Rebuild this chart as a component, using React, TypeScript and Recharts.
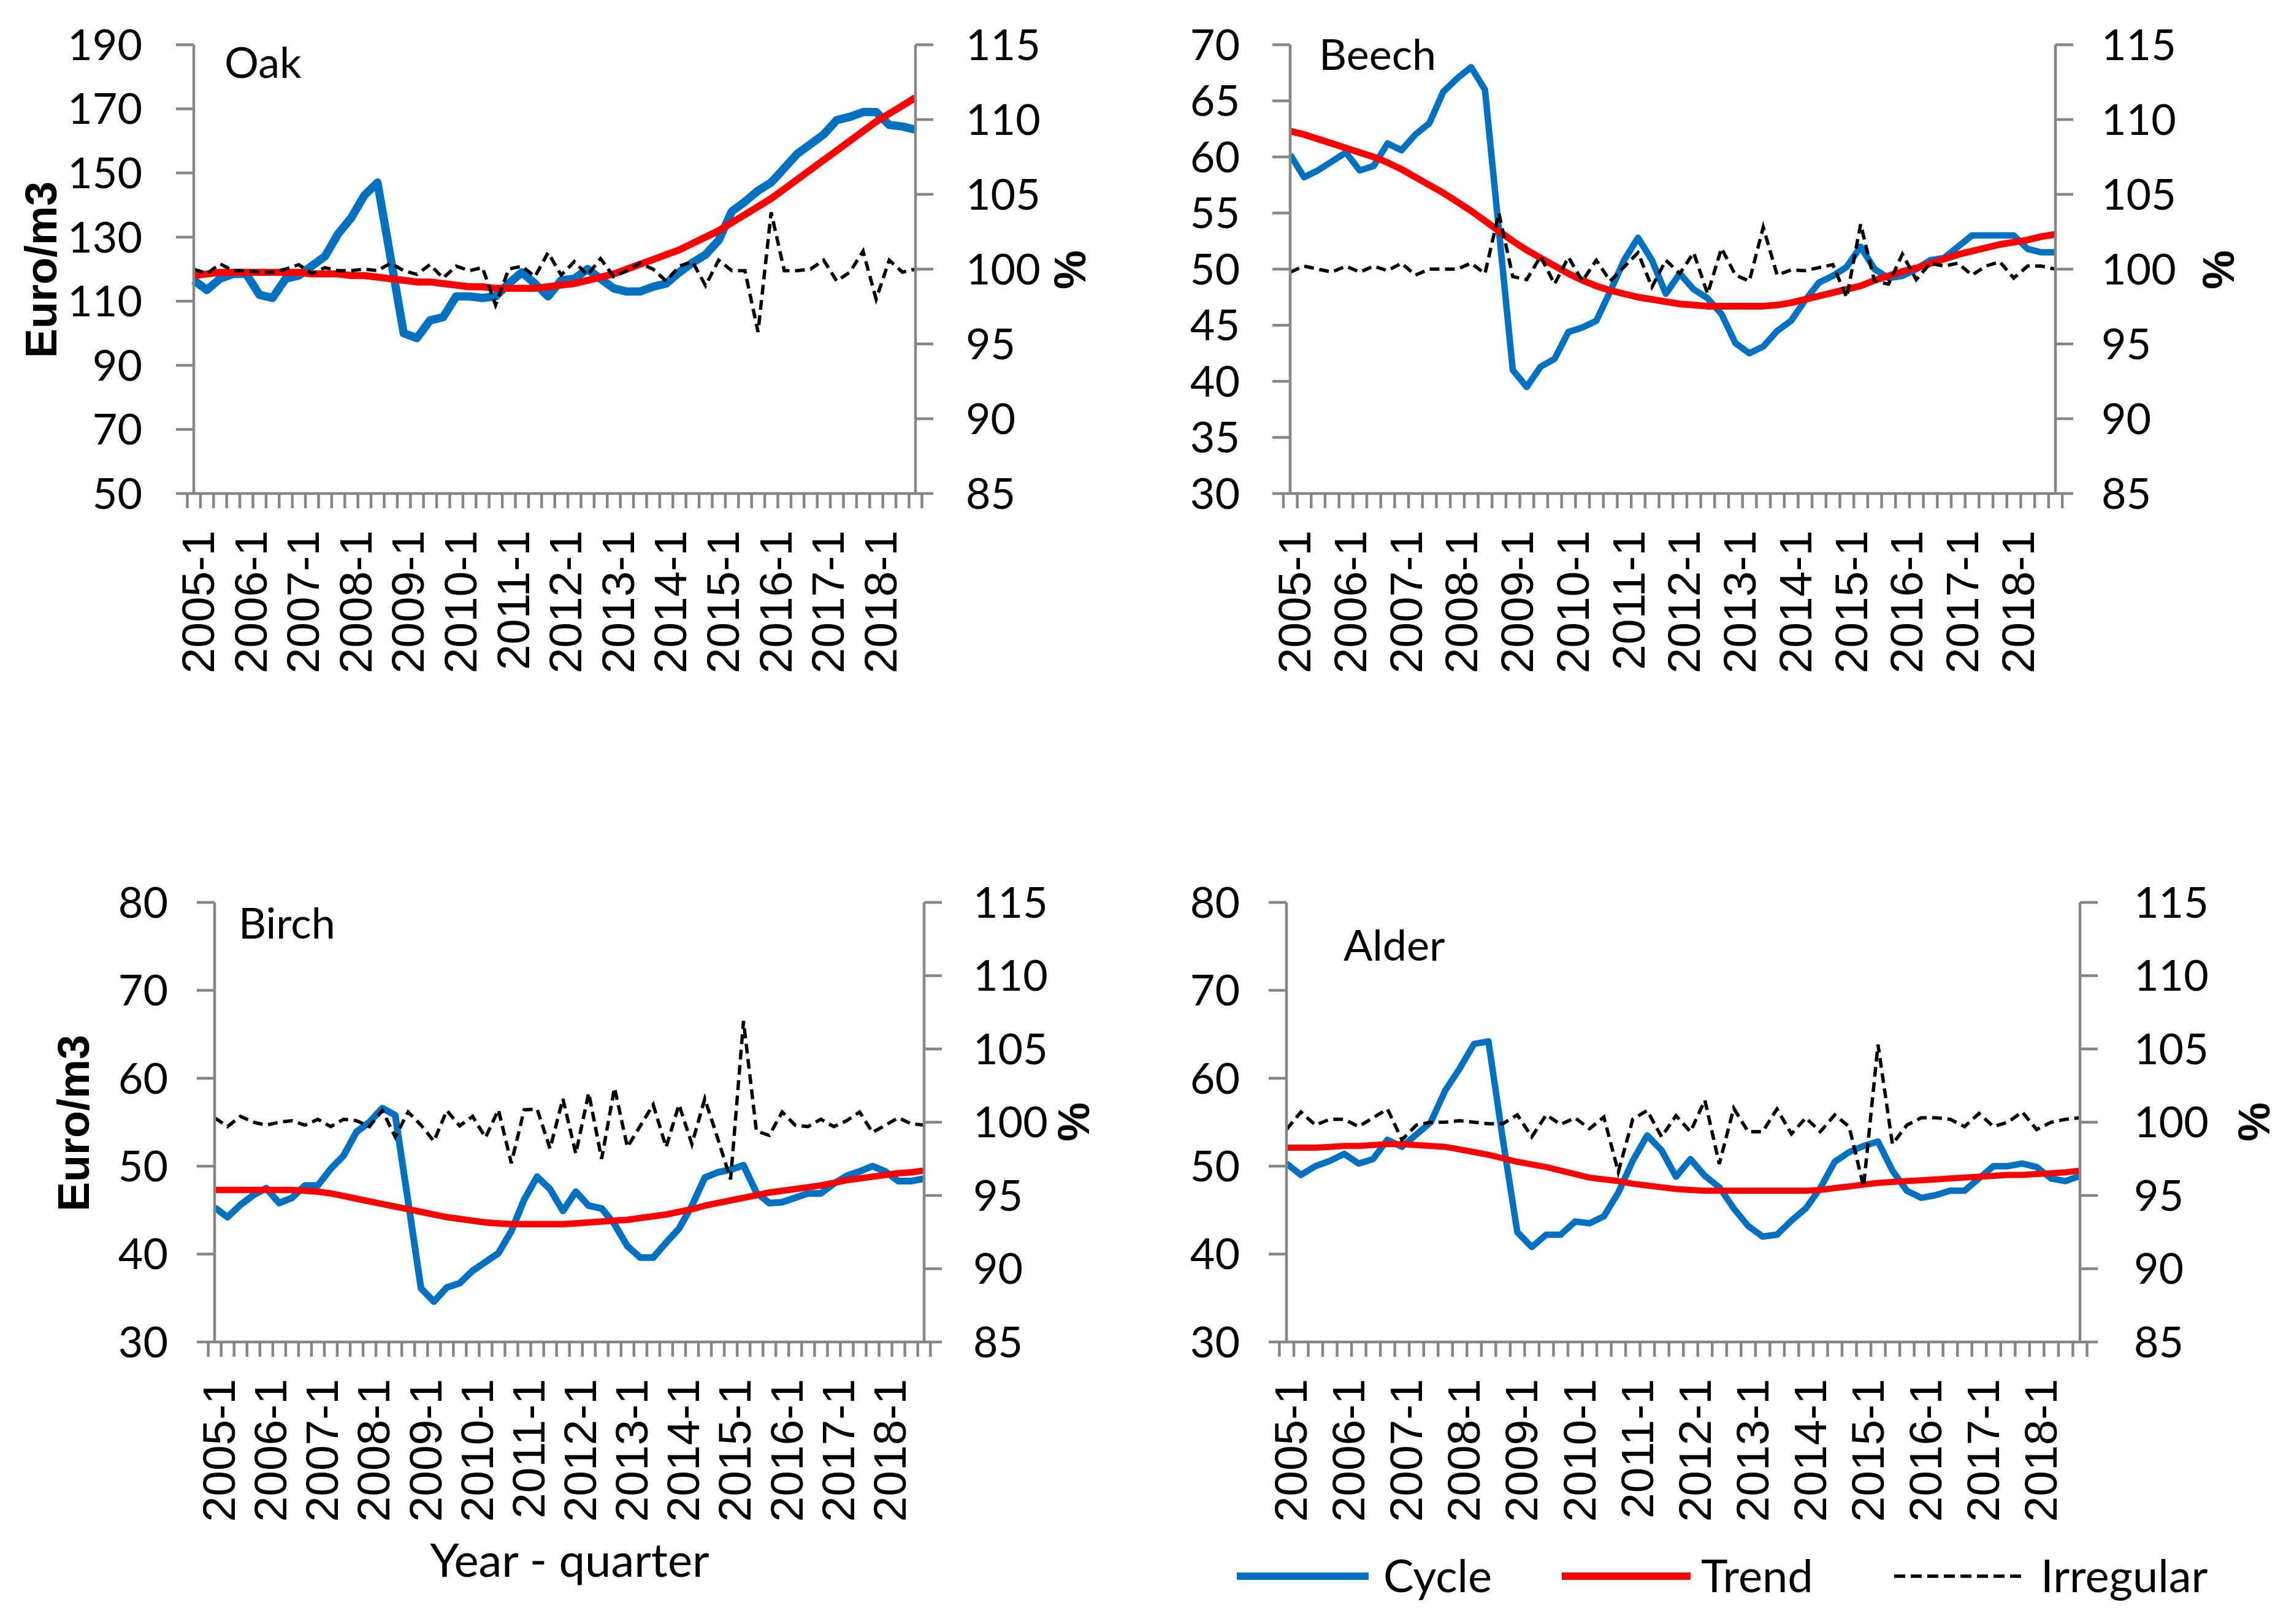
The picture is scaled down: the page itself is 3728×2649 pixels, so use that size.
import React from 'react';
import { ComposedChart, Line, XAxis, YAxis } from 'recharts';

// ---------- categories ----------
const years = [2005, 2006, 2007, 2008, 2009, 2010, 2011, 2012, 2013, 2014, 2015, 2016, 2017, 2018];
const quarterNums = [1, 2, 3, 4];
const quarters: string[] = years.flatMap((y) => quarterNums.map((q) => `${y}-${q}`));

// ---------- axis ticks ----------
const oakTicks = [50, 70, 90, 110, 130, 150, 170, 190];
const beechTicks = [30, 35, 40, 45, 50, 55, 60, 65, 70];
const birchTicks = [30, 40, 50, 60, 70, 80];
const alderTicks = [30, 40, 50, 60, 70, 80];
const pctTicks = [85, 90, 95, 100, 105, 110, 115];

// ---------- Oak ----------
const oakCycle = [116.5, 113.5, 117, 118.5, 118.5, 112, 111, 117, 118, 121, 124, 131, 136, 143, 147, 123.5, 100, 98.5, 104, 105, 111.5, 111.5, 111, 111.5, 115.5, 119, 115.5, 111.5, 116.5, 117, 120, 117, 114, 113, 113, 114.5, 115.5, 119, 122, 124.5, 129, 138, 141, 144.5, 147, 151.5, 156, 159, 162, 166.5, 167.5, 169, 169, 165, 164.5, 163.5];
const oakTrend = [118, 118.5, 119, 119, 119, 119, 119, 119, 119, 118.5, 118.5, 118.5, 118, 118, 117.5, 117, 116.5, 116, 116, 115.5, 115, 114.5, 114.5, 114, 114, 114, 114, 114.5, 115, 115.5, 116.5, 117.5, 118.5, 120, 121.5, 123, 124.5, 126, 128, 130, 132, 134.5, 137, 139.5, 142, 145, 148, 151, 154, 157, 160, 163, 166, 168.5, 171, 173.5];
const oakIrregular = [100, 99.7, 100.35, 99.9, 99.9, 99.8, 99.8, 100, 100.3, 99.7, 100.1, 99.9, 99.9, 100, 99.9, 100.4, 99.9, 99.65, 100.3, 99.4, 100.2, 99.9, 100.1, 97.6, 100, 100.2, 99.5, 101.1, 99.6, 100.5, 99.6, 100.7, 99.5, 99.9, 100.4, 100, 99.2, 100.2, 100.5, 98.9, 100.6, 99.9, 99.9, 95.8, 103.8, 99.9, 99.9, 100, 100.6, 99.2, 99.8, 101.2, 98, 100.6, 99.8, 100];

// ---------- Beech ----------
const beechCycle = [60.2, 58.2, 58.8, 59.6, 60.4, 58.8, 59.2, 61.2, 60.6, 62, 63, 65.8, 67, 68, 66, 53.5, 41, 39.5, 41.3, 42, 44.4, 44.8, 45.4, 48, 50.8, 52.8, 50.8, 47.8, 49.6, 48.2, 47.4, 46, 43.4, 42.5, 43.1, 44.5, 45.4, 47.2, 48.8, 49.4, 50.2, 52, 50, 49.2, 49.4, 50, 50.8, 51, 52, 53, 53, 53, 53, 51.8, 51.5, 51.5];
const beechTrend = [62.3, 62, 61.6, 61.2, 60.8, 60.4, 60, 59.5, 58.9, 58.2, 57.5, 56.8, 56, 55.2, 54.3, 53.4, 52.5, 51.7, 51, 50.3, 49.6, 49, 48.5, 48.1, 47.8, 47.5, 47.3, 47.1, 46.9, 46.8, 46.7, 46.7, 46.7, 46.7, 46.7, 46.8, 47, 47.3, 47.6, 47.9, 48.2, 48.5, 49, 49.4, 49.8, 50.1, 50.5, 50.9, 51.3, 51.6, 51.9, 52.2, 52.4, 52.6, 52.9, 53.1];
const beechIrregular = [99.8, 100.2, 100, 99.8, 100.2, 99.8, 100.2, 99.9, 100.4, 99.6, 100, 100, 100, 100.4, 99.7, 103.75, 99.5, 99.3, 100.85, 99, 100.8, 99.2, 100.6, 99.2, 100.15, 101.1, 98.8, 100.6, 99.7, 101.1, 98.35, 101.4, 99.6, 99.2, 102.8, 99.6, 99.95, 99.9, 100.1, 100.3, 98.1, 103, 99.2, 99, 101, 99.3, 100.4, 100.2, 100.4, 99.6, 100.2, 100.5, 99.4, 100.2, 100.2, 100];

// ---------- Birch ----------
const birchCycle = [45.3, 44.2, 45.6, 46.7, 47.5, 45.8, 46.4, 47.8, 47.8, 49.7, 51.2, 53.9, 55, 56.6, 55.8, 46, 36.1, 34.6, 36.2, 36.7, 38.1, 39.1, 40.1, 42.6, 46.2, 48.8, 47.4, 44.9, 47.1, 45.5, 45.2, 43.4, 40.9, 39.6, 39.6, 41.3, 42.9, 45.5, 48.7, 49.3, 49.6, 50.1, 47, 45.8, 45.9, 46.4, 46.9, 46.9, 48, 48.9, 49.4, 50, 49.4, 48.3, 48.3, 48.6];
const birchTrend = [47.3, 47.3, 47.3, 47.3, 47.3, 47.3, 47.3, 47.2, 47.1, 46.9, 46.6, 46.3, 46, 45.7, 45.4, 45.1, 44.8, 44.5, 44.2, 44, 43.8, 43.6, 43.5, 43.4, 43.4, 43.4, 43.4, 43.4, 43.5, 43.6, 43.7, 43.8, 43.9, 44.1, 44.3, 44.5, 44.8, 45.1, 45.5, 45.8, 46.1, 46.4, 46.7, 47, 47.2, 47.4, 47.6, 47.8, 48.1, 48.4, 48.6, 48.8, 49, 49.2, 49.3, 49.5];
const birchIrregular = [100.3, 99.7, 100.4, 100, 99.8, 100, 100.1, 99.8, 100.2, 99.7, 100.2, 100.1, 99.7, 100.8, 99, 100.7, 99.8, 98.7, 100.8, 99.75, 100.4, 98.95, 100.85, 97.2, 100.85, 100.9, 98.2, 101.6, 97.85, 102, 97.5, 102.35, 98.3, 99.75, 101.2, 98.3, 101.2, 98.5, 101.6, 98.9, 96.1, 106.9, 99.4, 99.1, 100.7, 99.8, 99.7, 100.2, 99.7, 100.1, 100.7, 99.3, 99.8, 100.3, 99.9, 99.8];

// ---------- Alder ----------
const alderCycle = [50.3, 49, 50, 50.6, 51.4, 50.3, 50.8, 53, 52.2, 53.6, 55, 58.6, 61.1, 63.9, 64.2, 53, 42.5, 40.8, 42.2, 42.2, 43.7, 43.5, 44.3, 47, 50.6, 53.5, 51.8, 48.8, 50.8, 48.9, 47.6, 45.2, 43.2, 42, 42.2, 43.8, 45.2, 47.5, 50.5, 51.6, 52.3, 52.8, 49.5, 47.2, 46.4, 46.7, 47.2, 47.2, 48.6, 50, 50, 50.3, 49.9, 48.6, 48.3, 48.9];
const alderTrend = [52.1, 52.1, 52.1, 52.2, 52.3, 52.3, 52.4, 52.5, 52.5, 52.4, 52.3, 52.2, 51.9, 51.6, 51.3, 50.9, 50.5, 50.2, 49.9, 49.5, 49.1, 48.7, 48.5, 48.3, 48, 47.8, 47.6, 47.4, 47.3, 47.2, 47.2, 47.2, 47.2, 47.2, 47.2, 47.2, 47.2, 47.3, 47.5, 47.7, 47.9, 48.1, 48.2, 48.3, 48.4, 48.5, 48.6, 48.7, 48.8, 48.9, 49, 49, 49.1, 49.2, 49.3, 49.5];
const alderIrregular = [99.5, 100.7, 99.8, 100.2, 100.2, 99.7, 100.3, 100.9, 98.8, 99.8, 100, 100, 100.1, 100, 99.9, 99.9, 100.5, 99, 100.5, 99.85, 100.3, 99.55, 100.35, 96.6, 100.2, 100.8, 99, 100.45, 99.35, 101.5, 97.15, 100.95, 99.35, 99.35, 100.9, 99.2, 100.3, 99.35, 100.5, 99.7, 95.6, 105.3, 98.5, 99.8, 100.3, 100.3, 100.2, 99.7, 100.6, 99.7, 100, 100.7, 99.5, 100, 100.2, 100.3];

// ---------- styles ----------
const AXIS = '#868686';
const AXIS_W = 4.5;
const BLUE = '#0070C0';
const RED = '#FF0000';
const FONT_MAIN = "Lato, 'Open Sans', 'Noto Sans', sans-serif";
const FONT_ARIAL = "'Liberation Sans', Arial, 'DejaVu Sans', sans-serif";

type PanelProps = {
  left: number;
  top: number;
  plotW: number;
  plotH: number;
  cycle: number[];
  trend: number[];
  irregular: number[];
  yDomain: [number, number];
  yTicks: number[];
  cycleWidth: number;
  trendWidth: number;
  leftMargin: number;
  rightMargin: number;
};

const YW = 260;
const TOP = 60;
const XH = 340;

function Panel(p: PanelProps) {
  const data = quarters.map((q, i) => ({ q, cycle: p.cycle[i], trend: p.trend[i], irr: p.irregular[i] }));
  const width = p.plotW + 2 * YW;
  const height = TOP + p.plotH + XH;
  const bw = p.plotW / quarters.length;

  const XTick = (props: any) => {
    const { x, y, payload } = props;
    const idx = quarters.indexOf(payload.value);
    return (
      <g>
        <line x1={x - bw / 2} x2={x - bw / 2} y1={y} y2={y + 24} stroke={AXIS} strokeWidth={AXIS_W} />
        {idx === quarters.length - 1 && (
          <line x1={x + bw / 2} x2={x + bw / 2} y1={y} y2={y + 24} stroke={AXIS} strokeWidth={AXIS_W} />
        )}
        {idx % 4 === 0 && (
          <text
            transform={`translate(${x + 33},${y + 60}) rotate(-90)`}
            textAnchor="end"
            fontSize={75}
            fontFamily={FONT_ARIAL}
            fill="#000"
          >
            {payload.value}
          </text>
        )}
      </g>
    );
  };

  return (
    <div style={{ position: 'absolute', left: p.left - YW, top: p.top - TOP }}>
      <ComposedChart width={width} height={height} data={data} margin={{ top: TOP, right: 0, bottom: 0, left: 0 }}>
        <XAxis
          dataKey="q"
          interval={0}
          tickSize={0}
          tickMargin={0}
          tickLine={false}
          axisLine={{ stroke: AXIS, strokeWidth: AXIS_W }}
          tick={XTick}
          height={XH}
        />
        <YAxis
          yAxisId="L"
          orientation="left"
          width={YW}
          domain={p.yDomain}
          ticks={p.yTicks}
          interval={0}
          allowDataOverflow
          tickSize={29}
          tickMargin={p.leftMargin}
          axisLine={{ stroke: AXIS, strokeWidth: AXIS_W }}
          tickLine={{ stroke: AXIS, strokeWidth: AXIS_W }}
          tick={{ fill: '#000', fontSize: 70, fontFamily: FONT_MAIN }}
        />
        <YAxis
          yAxisId="R"
          orientation="right"
          width={YW}
          domain={[85, 115]}
          ticks={pctTicks}
          interval={0}
          allowDataOverflow
          tickSize={29}
          tickMargin={p.rightMargin}
          axisLine={{ stroke: AXIS, strokeWidth: AXIS_W }}
          tickLine={{ stroke: AXIS, strokeWidth: AXIS_W }}
          tick={{ fill: '#000', fontSize: 70, fontFamily: FONT_MAIN }}
        />
        <Line yAxisId="L" type="linear" dataKey="cycle" stroke={BLUE} strokeWidth={p.cycleWidth} dot={false} isAnimationActive={false} strokeLinejoin="round" />
        <Line yAxisId="L" type="linear" dataKey="trend" stroke={RED} strokeWidth={p.trendWidth} dot={false} isAnimationActive={false} strokeLinejoin="round" />
        <Line yAxisId="R" type="linear" dataKey="irr" stroke="#000" strokeWidth={5.5} strokeDasharray="16 9" dot={false} isAnimationActive={false} />
      </ComposedChart>
    </div>
  );
}

export default function App() {
  return (
    <div style={{ position: 'absolute', left: 0, top: 0, width: 3728, height: 2649, background: '#fff', overflow: 'hidden' }}>
      <Panel left={316} top={73} plotW={1177} plotH={732} cycle={oakCycle} trend={oakTrend} irregular={oakIrregular} yDomain={[50, 190]} yTicks={oakTicks} cycleWidth={13.5} trendWidth={11.5} leftMargin={55} rightMargin={53} />
      <Panel left={2104} top={73} plotW={1248} plotH={732} cycle={beechCycle} trend={beechTrend} irregular={beechIrregular} yDomain={[30, 70]} yTicks={beechTicks} cycleWidth={10.5} trendWidth={11} leftMargin={53} rightMargin={46} />
      <Panel left={350} top={1472} plotW={1157} plotH={717} cycle={birchCycle} trend={birchTrend} irregular={birchIrregular} yDomain={[30, 80]} yTicks={birchTicks} cycleWidth={11} trendWidth={10.5} leftMargin={47} rightMargin={51} />
      <Panel left={2098} top={1472} plotW={1294} plotH={717} cycle={alderCycle} trend={alderTrend} irregular={alderIrregular} yDomain={[30, 80]} yTicks={alderTicks} cycleWidth={10.5} trendWidth={10} leftMargin={47} rightMargin={59} />

      <svg width={3728} height={2649} style={{ position: 'absolute', left: 0, top: 0, pointerEvents: 'none' }}>
        {/* panel names */}
        <text x={366} y={127} fontSize={70} fontFamily={FONT_MAIN} fill="#000">Oak</text>
        <text x={2151} y={114} fontSize={70} fontFamily={FONT_MAIN} fill="#000">Beech</text>
        <text x={389} y={1531} fontSize={70} fontFamily={FONT_MAIN} fill="#000">Birch</text>
        <text x={2191} y={1567} fontSize={70} fontFamily={FONT_MAIN} fill="#000">Alder</text>

        {/* axis titles */}
        <text transform="translate(92,440) rotate(-90)" textAnchor="middle" fontSize={72} fontWeight="bold" fontFamily={FONT_ARIAL} fill="#000">Euro/m3</text>
        <text transform="translate(145,1832) rotate(-90)" textAnchor="middle" fontSize={72} fontWeight="bold" fontFamily={FONT_ARIAL} fill="#000">Euro/m3</text>
        <text transform="translate(1770,440) rotate(-90)" textAnchor="middle" fontSize={72} fontWeight="bold" fontFamily={FONT_ARIAL} fill="#000">%</text>
        <text transform="translate(3643,440) rotate(-90)" textAnchor="middle" fontSize={72} fontWeight="bold" fontFamily={FONT_ARIAL} fill="#000">%</text>
        <text transform="translate(1776,1830) rotate(-90)" textAnchor="middle" fontSize={72} fontWeight="bold" fontFamily={FONT_ARIAL} fill="#000">%</text>
        <text transform="translate(3701,1830) rotate(-90)" textAnchor="middle" fontSize={72} fontWeight="bold" fontFamily={FONT_ARIAL} fill="#000">%</text>
        <text x={929} y={2572} textAnchor="middle" fontSize={76} fontFamily={FONT_MAIN} fill="#000">Year - quarter</text>

        {/* legend */}
        <line x1={2017} x2={2232} y1={2571} y2={2571} stroke={BLUE} strokeWidth={12} />
        <text x={2256} y={2597} fontSize={74} fontFamily={FONT_MAIN} fill="#000">Cycle</text>
        <line x1={2547} x2={2757} y1={2571} y2={2571} stroke={RED} strokeWidth={12} />
        <text x={2774} y={2597} fontSize={74} fontFamily={FONT_MAIN} fill="#000">Trend</text>
        <line x1={3089} x2={3299} y1={2571} y2={2571} stroke="#000" strokeWidth={5.5} strokeDasharray="18 9" />
        <text x={3328} y={2597} fontSize={74} fontFamily={FONT_MAIN} fill="#000">Irregular</text>
      </svg>
    </div>
  );
}
